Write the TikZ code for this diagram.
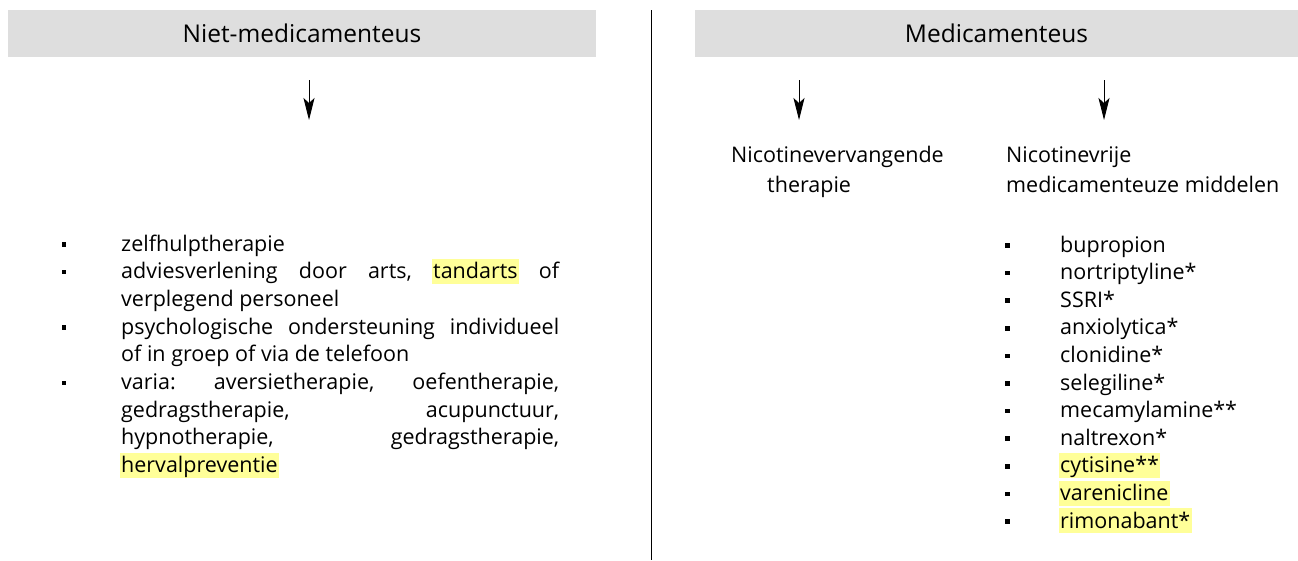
\documentclass[tikz,border=0pt]{standalone}
\usepackage{fontspec}
\setmainfont{Open Sans}
\usetikzlibrary{arrows.meta}
\definecolor{hdrgray}{RGB}{222,222,222}
\definecolor{hlyellow}{RGB}{255,255,153}
\newcommand{\hlw}[1]{\kern-1.5pt{\setlength{\fboxsep}{0pt}\colorbox{hlyellow}{\kern1.5pt\rule[-5.3pt]{0pt}{24.9pt}#1\kern1.5pt}}\kern-1.5pt}
\newcommand{\jline}[1]{\hbox to 438pt{#1}}
\begin{document}
\begin{tikzpicture}[x=1pt,y=-1pt,
  body/.style={font=\fontsize{21.5}{27.7}\selectfont, inner sep=0pt},
  hdr/.style={fill=hdrgray, inner sep=0pt, font=\fontsize{24.5}{28}\selectfont},
  bul/.style={fill=black, inner sep=0pt, minimum width=4.5pt, minimum height=4.5pt},
  arr/.style={-{Stealth[length=22pt,width=11pt,inset=5pt]}, line width=0.9pt},
]
\useasboundingbox (0,0) rectangle (1298,560);
% headers
\node[hdr, minimum width=588pt, minimum height=47pt] (hL) at (302,33.5) {Niet-medicamenteus};
\node[hdr, minimum width=603pt, minimum height=47pt] (hR) at (996.5,33.5) {Medicamenteus};
% divider
\coordinate (dT) at (651,10);
\coordinate (dB) at (651,560);
\draw[line width=1pt] (dT) -- (dB);
% arrows
\coordinate (aL1) at (309,80); \coordinate (aL2) at (309,120);
\coordinate (aM1) at (799,80); \coordinate (aM2) at (799,120);
\coordinate (aR1) at (1104,80); \coordinate (aR2) at (1104,120);
\draw[arr] (aL1) -- (aL2);
\draw[arr] (aM1) -- (aM2);
\draw[arr] (aR1) -- (aR2);
% sub headings
\node[body, anchor=base west] (nvt1) at (731,162) {Nicotinevervangende};
\node[body, anchor=base west] (nvt2) at (767,192) {therapie};
\node[body, anchor=base west] (nmm1) at (1006,162) {Nicotinevrije};
\node[body, anchor=base west] (nmm2) at (1006,192) {medicamenteuze middelen};
% left list
\node[body, anchor=base west] (l1) at (121,251) {zelfhulptherapie};
\node[body, anchor=base west] (l2) at (121,278.7) {\jline{adviesverlening\hfill door\hfill arts,\hfill \hlw{tandarts}\hfill of}};
\node[body, anchor=base west] (l3) at (121,306.4) {verplegend personeel};
\node[body, anchor=base west] (l4) at (121,334.1) {\jline{psychologische\hfill ondersteuning\hfill individueel}};
\node[body, anchor=base west] (l5) at (121,361.8) {of in groep of via de telefoon};
\node[body, anchor=base west] (l6) at (121,389.5) {\jline{varia:\hfill aversietherapie,\hfill oefentherapie,}};
\node[body, anchor=base west] (l7) at (121,417.2) {\jline{gedragstherapie,\hfill acupunctuur,}};
\node[body, anchor=base west] (l8) at (121,444.9) {\jline{hypnotherapie,\hfill gedragstherapie,}};
\node[body, anchor=base west] (l9) at (121,472.6) {\hlw{hervalpreventie}};
\node[bul] (b1) at (64,244.5) {};
\node[bul] (b2) at (64,272.2) {};
\node[bul] (b3) at (64,327.6) {};
\node[bul] (b4) at (64,383) {};
% right list
\foreach \t [count=\i] in {bupropion, nortriptyline*, SSRI*, anxiolytica*, clonidine*, selegiline*, mecamylamine**, naltrexon*, \hlw{cytisine**}, \hlw{varenicline}, \hlw{rimonabant*}} {
  \node[body, anchor=base west] (r\i) at (1060,{252+27.6*(\i-1)}) {\t};
  \node[bul] (rb\i) at (1007.5,{245.5+27.6*(\i-1)}) {};
}
\end{tikzpicture}
\end{document}
